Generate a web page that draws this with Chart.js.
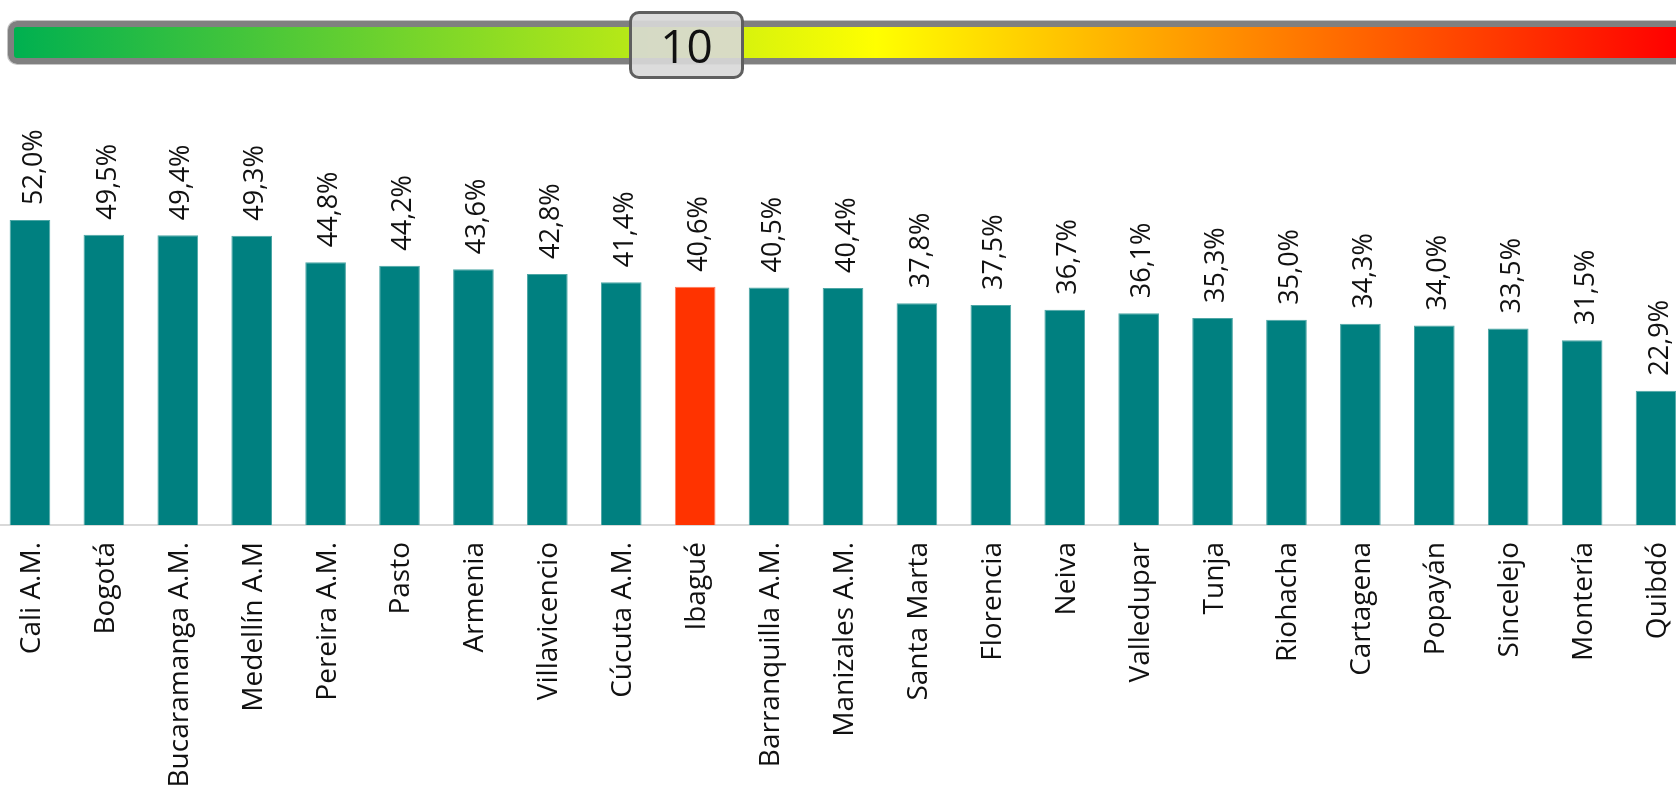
<!DOCTYPE html>
<html>
<head>
<meta charset="utf-8">
<script src="https://cdn.jsdelivr.net/npm/chart.js@4.4.1/dist/chart.umd.min.js"></script>
<style>
  html, body { margin:0; padding:0; background:#fff; overflow:hidden; width:1676px; height:785px; }
  #wrap { position:absolute; left:-7px; top:0; width:1700px; height:785px; }
  #track { position:absolute; left:8px; top:21px; width:1720px; height:43px; box-sizing:border-box;
           border:6px solid #808080; border-radius:9px;
           background:linear-gradient(to right, #00b050 0px, #ffff00 862px, #ff0000 1662px);
           box-shadow:0 0 0 1px #c6c6c6; }
  #knob { position:absolute; left:629px; top:11px; width:115px; height:68px; box-sizing:border-box;
          border:3.5px solid #5f5f5f; border-radius:10px; background:rgba(216,216,216,0.9);
          display:flex; align-items:center; justify-content:center;
          font:400 46px "Open Sans", sans-serif; color:#111; line-height:1; }
</style>
</head>
<body>
<div id="wrap"><canvas id="c"></canvas></div>
<div id="track"></div>
<div id="knob"></div>
<script>
const categories = ['Cali A.M.','Bogotá','Bucaramanga A.M.','Medellín A.M','Pereira A.M.','Pasto','Armenia','Villavicencio','Cúcuta A.M.','Ibagué','Barranquilla A.M.','Manizales A.M.','Santa Marta','Florencia','Neiva','Valledupar','Tunja','Riohacha','Cartagena','Popayán','Sincelejo','Montería','Quibdó'];
const values = [52.0,49.5,49.4,49.3,44.8,44.2,43.6,42.8,41.4,40.6,40.5,40.4,37.8,37.5,36.7,36.1,35.3,35.0,34.3,34.0,33.5,31.5,22.9];
const highlighted = ['Ibagué'];
const sliderValue = 10;

document.getElementById('knob').textContent = String(sliderValue);

const FS_VALUE = 27;
const FS_TICK = 28;
const FONT_FAMILY = '"Open Sans", sans-serif';
const TEAL = '#008080', RED = '#ff3300';
const barColors = categories.map(c => highlighted.includes(c) ? RED : TEAL);
const barBorders = categories.map(c => highlighted.includes(c) ? '#ff7a5c' : '#4da6a5');

const valueLabels = {
  id: 'valueLabels',
  afterDatasetsDraw(chart) {
    const ctx = chart.ctx;
    const meta = chart.getDatasetMeta(0);
    ctx.save();
    ctx.font = `400 ${FS_VALUE}px ${FONT_FAMILY}`;
    ctx.fillStyle = '#111';
    ctx.textAlign = 'left';
    ctx.textBaseline = 'alphabetic';
    meta.data.forEach((bar, i) => {
      const txt = values[i].toFixed(1).replace('.', ',') + '%';
      ctx.save();
      ctx.translate(bar.x + 2 + 0.357 * FS_VALUE, bar.y - 15);
      ctx.rotate(-Math.PI / 2);
      ctx.fillText(txt, 0, 0);
      ctx.restore();
    });
    ctx.restore();
  }
};

new Chart(document.getElementById('c'), {
  type: 'bar',
  data: {
    labels: categories,
    datasets: [{
      data: values,
      backgroundColor: barColors,
      borderColor: barBorders,
      borderWidth: 1,
      categoryPercentage: 1,
      barPercentage: 0.55
    }]
  },
  options: {
    responsive: true,
    maintainAspectRatio: false,
    animation: false,
    layout: { padding: 0 },
    plugins: { legend: { display: false }, tooltip: { enabled: false } },
    scales: {
      y: { display: false, min: 0, max: 89.5 },
      x: {
        offset: true,
        grid: { display: false, drawTicks: false },
        border: { display: true, color: '#d9d9d9', width: 2 },
        ticks: {
          autoSkip: false, minRotation: 90, maxRotation: 90, padding: 17, labelOffset: 2,
          color: '#111', font: { family: FONT_FAMILY, size: FS_TICK, weight: 400 }
        },
        afterFit(scale) { scale.height = 260; scale.paddingLeft = 0; scale.paddingRight = 0; }
      }
    }
  },
  plugins: [valueLabels]
});
</script>
</body>
</html>
